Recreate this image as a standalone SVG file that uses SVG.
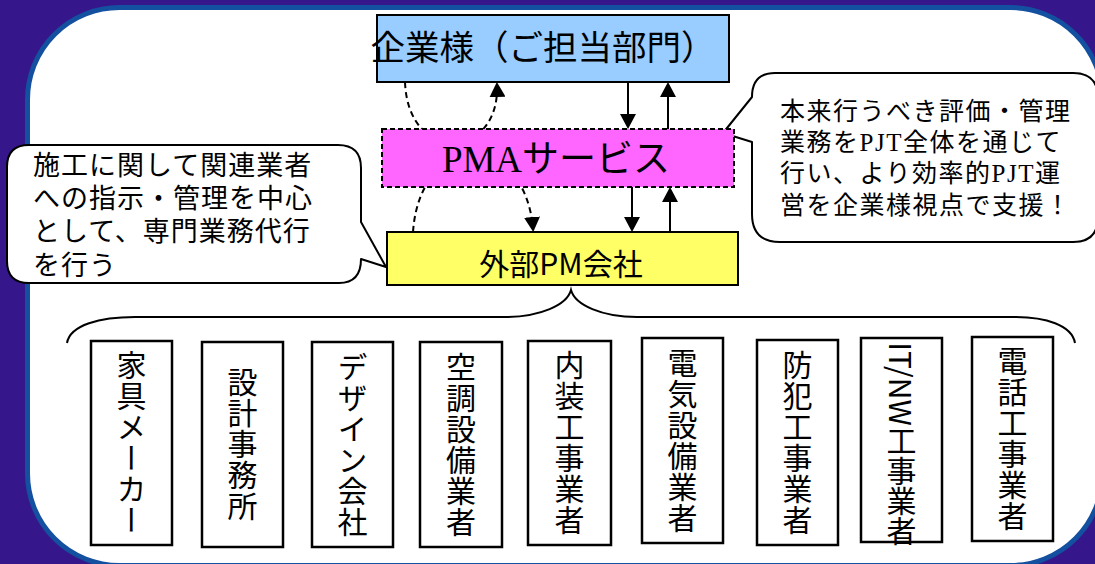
<svg xmlns="http://www.w3.org/2000/svg" width="1095" height="564" viewBox="0 0 1095 564">
<defs>
<style>
.jp{font-family:"Noto Sans CJK JP","Noto Sans CJK SC",sans-serif;fill:#000}
.serif{font-family:"Liberation Serif","Noto Serif CJK JP",serif}
.box{stroke:#000;stroke-width:2}
.conn{fill:none;stroke:#000;stroke-width:2}
.dash{stroke-dasharray:6 4}
.call{fill:#fff;stroke:#000;stroke-width:2;stroke-linejoin:round}
.vbox{fill:#fff;stroke:#000;stroke-width:2.5}
.vt{writing-mode:vertical-rl;font-size:30px;letter-spacing:1px;text-anchor:middle}
</style>
<marker id="ah" viewBox="0 0 15 16" refX="12" refY="8" markerWidth="15" markerHeight="16" markerUnits="userSpaceOnUse" orient="auto"><path d="M0,0 L15,8 L0,16 z" fill="#000"/></marker>
</defs>
<rect x="0" y="0" width="1095" height="564" fill="#36168B"/>
<rect x="27.5" y="7.5" width="1075" height="558" rx="92" ry="92" fill="#fff" stroke="#1450A0" stroke-width="5"/>

<g id="callout-right">
<path class="call" d="M775,73 L1073,73 Q1098,73 1098,98 L1098,217 Q1098,242 1073,242 L780,242 Q752,242 752,214 L752,142 L723,133 L752,97 Q752,73 775,73 Z"/>
<text class="jp" font-size="25" letter-spacing="1.5">
<tspan x="780" y="120">本来行うべき評価・管理</tspan>
<tspan x="780" y="151">業務を<tspan class="serif">PJT</tspan>全体を通じて</tspan>
<tspan x="780" y="182">行い、より効率的<tspan class="serif">PJT</tspan>運</tspan>
<tspan x="780" y="214">営を企業様視点で支援！</tspan>
</text>
</g>

<g id="callout-left">
<path class="call" d="M29,145 L338,145 Q361,145 361,168 L361,222 L386,267 L361,259 Q361,283 339,283 L29,283 Q7,283 7,261 L7,167 Q7,145 29,145 Z"/>
<text class="jp" font-size="27" letter-spacing="1">
<tspan x="33" y="175">施工に関して関連業者</tspan>
<tspan x="33" y="208">への指示・管理を中心</tspan>
<tspan x="33" y="241">として、専門業務代行</tspan>
<tspan x="33" y="275">を行う</tspan>
</text>
</g>

<g id="connectors">
<path class="conn dash" d="M405,82 C408,165 500,160 497,85" marker-end="url(#ah)"/>
<path class="conn dash" d="M413,232 C420,130 525,130 533,229" marker-end="url(#ah)"/>
<line class="conn" x1="628" y1="82" x2="628" y2="126" marker-end="url(#ah)"/>
<line class="conn" x1="668" y1="129" x2="668" y2="85" marker-end="url(#ah)"/>
<line class="conn" x1="632" y1="187" x2="632" y2="229" marker-end="url(#ah)"/>
<line class="conn" x1="670" y1="232" x2="670" y2="190" marker-end="url(#ah)"/>
<path class="conn" d="M67,343 C70,325 100,317 135,317 L505,317 C540,317 567,305 571,290 C575,305 602,317 637,317 L1015,317 C1045,317 1072,325 1075,343"/>
</g>

<g id="client">
<rect class="box" x="377" y="15" width="352" height="67" fill="#99CCFF"/>
<text class="jp" x="543" y="60" font-size="34.5" text-anchor="middle">企業様（ご担当部門）</text>
</g>

<g id="pma">
<rect class="box" x="382" y="129" width="352" height="58" fill="#FF66FF" stroke-dasharray="5 3"/>
<text class="jp" x="556" y="172" font-size="37" text-anchor="middle"><tspan class="serif">PMA</tspan>サービス</text>
</g>

<g id="pm-company">
<rect class="box" x="387" y="232" width="351" height="53" fill="#FFFF66"/>
<text class="jp" x="561" y="275" font-size="30" text-anchor="middle">外部PM会社</text>
</g>

<g id="v1"><rect class="vbox" x="91" y="341" width="81" height="204"/><text class="jp vt" x="131.5" y="443">家具メーカー</text></g>
<g id="v2"><rect class="vbox" x="202" y="342" width="81" height="205"/><text class="jp vt" x="242.5" y="444.5">設計事務所</text></g>
<g id="v3"><rect class="vbox" x="312" y="342" width="81" height="205"/><text class="jp vt" x="352.5" y="444.5">デザイン会社</text></g>
<g id="v4"><rect class="vbox" x="420" y="342" width="82" height="205"/><text class="jp vt" x="461" y="444.5">空調設備業者</text></g>
<g id="v5"><rect class="vbox" x="528" y="341" width="83" height="204"/><text class="jp vt" x="569.5" y="443">内装工事業者</text></g>
<g id="v6"><rect class="vbox" x="642" y="338" width="81" height="205"/><text class="jp vt" x="682.5" y="440.5">電気設備業者</text></g>
<g id="v7"><rect class="vbox" x="757" y="340" width="81" height="205"/><text class="jp vt" x="797.5" y="442.5">防犯工事業者</text></g>
<g id="v8"><rect class="vbox" x="861" y="338" width="81" height="204"/><text class="jp vt" x="901.5" y="444" style="letter-spacing:0">IT/NW工事業者</text></g>
<g id="v9"><rect class="vbox" x="972" y="337" width="81" height="204"/><text class="jp vt" x="1012.5" y="439">電話工事業者</text></g>
</svg>
